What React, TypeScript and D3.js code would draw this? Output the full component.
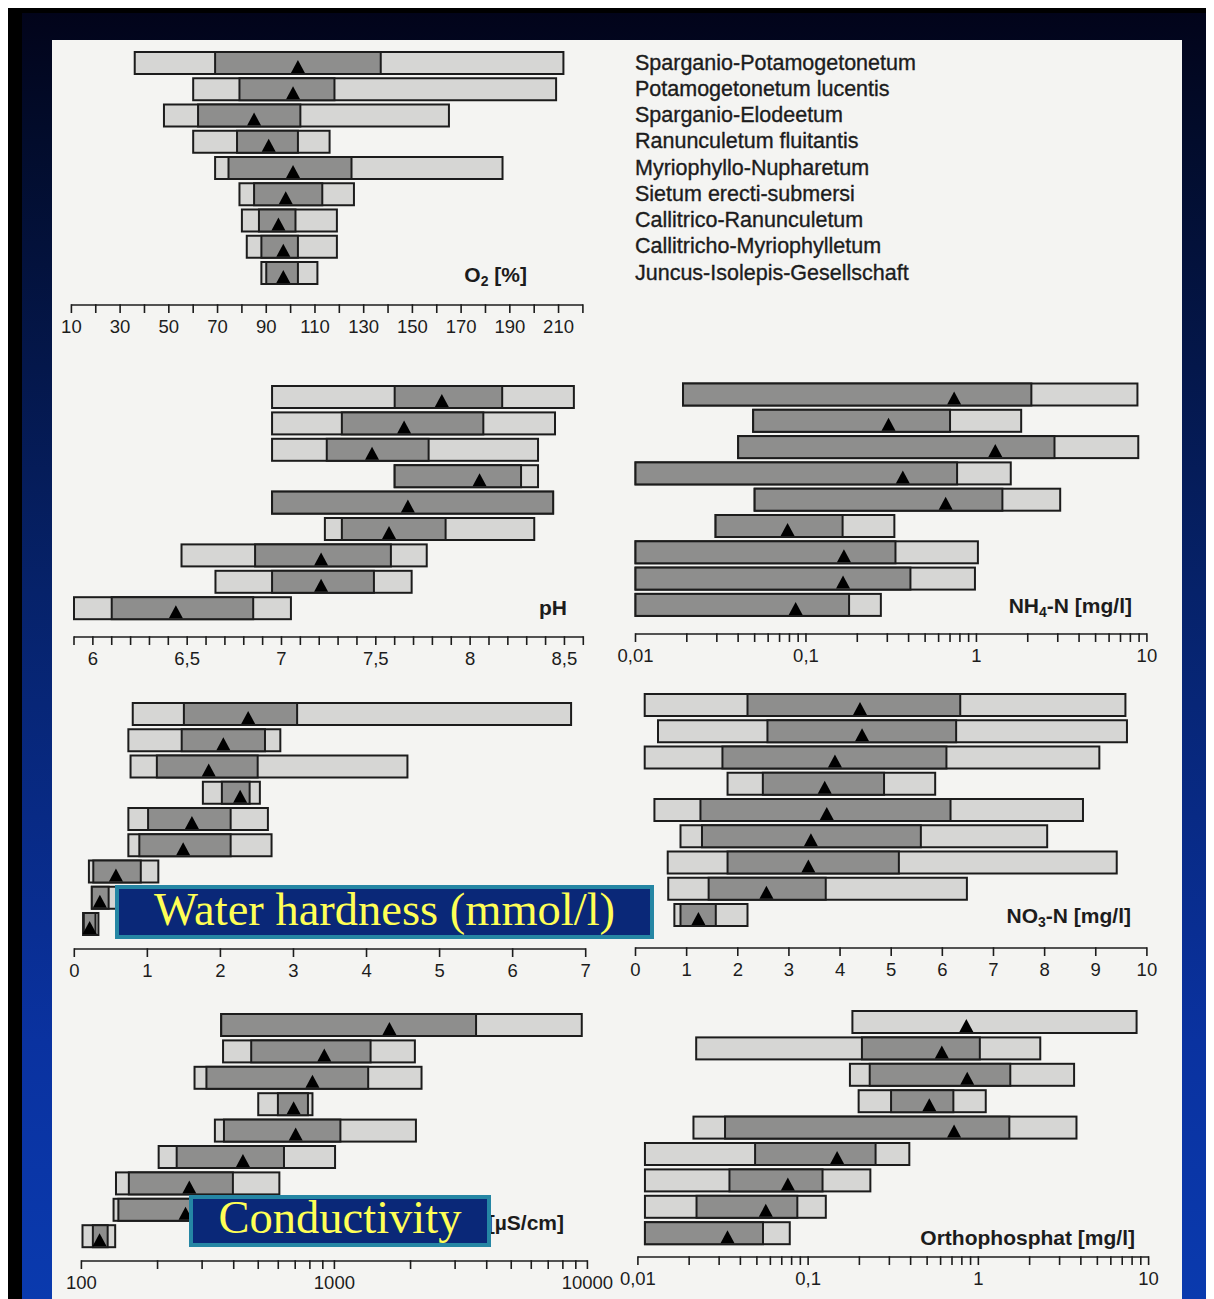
import React from 'react';
import * as d3 from 'd3';

// plant communities (same row order in every panel)
const communities = [
  'Sparganio-Potamogetonetum',
  'Potamogetonetum lucentis',
  'Sparganio-Elodeetum',
  'Ranunculetum fluitantis',
  'Myriophyllo-Nupharetum',
  'Sietum erecti-submersi',
  'Callitrico-Ranunculetum',
  'Callitricho-Myriophylletum',
  'Juncus-Isolepis-Gesellschaft',
];

// each row: [min, lower quartile, upper quartile, max, median]
const o2Rows = [
  [36, 69, 137, 212, 103],
  [60, 79, 118, 209, 101],
  [48, 62, 104, 165, 85],
  [60, 78, 103, 116, 91],
  [69, 74.5, 125, 187, 101],
  [79, 85, 113, 126, 98],
  [80, 87, 102, 119, 95],
  [82, 88, 103, 119, 97],
  [88, 90, 103, 111, 97],
];

const phRows = [
  [6.95, 7.6, 8.17, 8.55, 7.85],
  [6.95, 7.32, 8.07, 8.45, 7.65],
  [6.95, 7.24, 7.78, 8.36, 7.48],
  [7.6, 7.6, 8.27, 8.36, 8.05],
  [6.95, 6.95, 8.44, 8.44, 7.67],
  [7.23, 7.32, 7.87, 8.34, 7.57],
  [6.47, 6.86, 7.58, 7.77, 7.21],
  [6.65, 6.95, 7.49, 7.69, 7.21],
  [5.9, 6.1, 6.85, 7.05, 6.44],
];

const nh4Rows = [
  [0.019, 0.019, 2.1, 8.8, 0.74],
  [0.049, 0.049, 0.7, 1.83, 0.305],
  [0.04, 0.04, 2.87, 8.9, 1.29],
  [0.01, 0.01, 0.77, 1.59, 0.37],
  [0.05, 0.05, 1.42, 3.1, 0.66],
  [0.0295, 0.0295, 0.164, 0.33, 0.078],
  [0.01, 0.01, 0.335, 1.02, 0.167],
  [0.01, 0.01, 0.41, 0.98, 0.165],
  [0.01, 0.01, 0.179, 0.275, 0.087],
];

const hardnessRows = [
  [0.8, 1.5, 3.05, 6.8, 2.38],
  [0.74, 1.47, 2.61, 2.82, 2.04],
  [0.77, 1.13, 2.51, 4.56, 1.84],
  [1.76, 2.02, 2.4, 2.54, 2.27],
  [0.74, 1.01, 2.14, 2.65, 1.61],
  [0.74, 0.89, 2.14, 2.7, 1.49],
  [0.2, 0.26, 0.91, 1.15, 0.57],
  [0.24, 0.24, 0.47, 0.62, 0.35],
  [0.12, 0.13, 0.29, 0.33, 0.21],
];

const no3Rows = [
  [0.18, 2.19, 6.35, 9.58, 4.39],
  [0.44, 2.58, 6.27, 9.61, 4.43],
  [0.18, 1.7, 6.08, 9.07, 3.9],
  [1.8, 2.49, 4.86, 5.86, 3.7],
  [0.37, 1.27, 6.16, 8.75, 3.74],
  [0.88, 1.3, 5.58, 8.05, 3.43],
  [0.63, 1.8, 5.15, 9.41, 3.38],
  [0.64, 1.43, 3.72, 6.48, 2.56],
  [0.76, 0.88, 1.57, 2.19, 1.23],
];

const condRows = [
  [357, 357, 3630, 9500, 1650],
  [363, 469, 1390, 2080, 912],
  [280, 312, 1360, 2210, 819],
  [500, 598, 786, 819, 690],
  [337, 366, 1056, 2100, 703],
  [202, 238, 632, 1006, 435],
  [137, 154, 397, 606, 267],
  [134, 140, 370, 560, 258],
  [101, 111, 127, 136, 118],
];

const phosRows = [
  [0.182, null, null, 8.5, 0.85],
  [0.022, 0.207, 1.02, 2.31, 0.61],
  [0.176, 0.23, 1.54, 3.65, 0.86],
  [0.198, 0.307, 0.713, 1.105, 0.515],
  [0.0212, 0.0325, 1.52, 3.77, 0.72],
  [0.011, 0.0488, 0.249, 0.393, 0.148],
  [0.011, 0.0345, 0.1215, 0.232, 0.076],
  [0.011, 0.0221, 0.0864, 0.127, 0.0564],
  [0.011, 0.011, 0.0543, 0.078, 0.0336],
];

// tick labels
const o2Labels = [10, 30, 50, 70, 90, 110, 130, 150, 170, 190, 210];
const phLabels = [6, 6.5, 7, 7.5, 8, 8.5];
const hardnessLabels = [0, 1, 2, 3, 4, 5, 6, 7];
const no3Labels = [0, 1, 2, 3, 4, 5, 6, 7, 8, 9, 10];
const mgLogLabels = [0.01, 0.1, 1, 10];
const condLabels = [100, 1000, 10000];

const SANS = '"Liberation Sans", Arial, Helvetica, sans-serif';
const SERIF = '"Liberation Serif", "Times New Roman", serif';
const INK = '#1c1c1c';
const comma = (v: number) => String(v).replace('.', ',');

const BAR_H = 22;

function Bars({ rows, x, y0, step }: any) {
  return (
    <g>
      {rows.map((r: (number | null)[], i: number) => {
        const [mn, q1, q3, mx, md] = r as number[];
        const top = y0 + i * step - BAR_H / 2;
        const m = x(md);
        return (
          <g key={i}>
            <rect x={x(mn)} y={top} width={x(mx) - x(mn)} height={BAR_H}
              fill="#d6d6d4" stroke={INK} strokeWidth={2} />
            {q1 != null && (
              <rect x={x(q1)} y={top} width={x(q3) - x(q1)} height={BAR_H}
                fill="#8e8e8d" stroke={INK} strokeWidth={2} />
            )}
            <path d={`M${m - 7},${top + BAR_H - 1}L${m + 7},${top + BAR_H - 1}L${m},${top + BAR_H - 14}Z`}
              fill="#000" />
          </g>
        );
      })}
    </g>
  );
}

function Axis({ x, y, ticks, labels, fmt }: any) {
  const [a, b] = x.range();
  return (
    <g>
      <line x1={a} x2={b} y1={y} y2={y} stroke={INK} strokeWidth={1.6} />
      {ticks.map((t: number, i: number) => (
        <line key={i} x1={x(t)} x2={x(t)} y1={y - 0.8} y2={y + 8} stroke={INK} strokeWidth={1.6} />
      ))}
      {labels.map((t: number, i: number) => (
        <text key={i} x={x(t)} y={y + 28} textAnchor="middle" fontFamily={SANS}
          fontSize={18.5} fill={INK}>{fmt(t)}</text>
      ))}
    </g>
  );
}

function Title({ x, y, children }: any) {
  return (
    <text x={x} y={y} textAnchor="end" fontFamily={SANS} fontSize={21}
      fontWeight="bold" fill={INK}>{children}</text>
  );
}

function Sub({ children }: any) {
  return <tspan fontSize={14} dy={4}>{children}</tspan>;
}

function Banner({ x, y, w, h, label }: any) {
  return (
    <g>
      <rect x={x} y={y} width={w} height={h} fill="#0a2878" stroke="#2586a4" strokeWidth={4} />
      <text x={x + w / 2} y={y + h - 12} textAnchor="middle" fontFamily={SERIF}
        fontSize={46.5} fill="#ffff55">{label}</text>
    </g>
  );
}

export default function App() {
  const o2X = d3.scaleLinear().domain([10, 220]).range([71.4, 582.9]);
  const phX = d3.scaleLinear().domain([5.9, 8.6]).range([74, 583.3]);
  const nh4X = d3.scaleLog().domain([0.01, 10]).range([635.5, 1146.9]);
  const hardX = d3.scaleLinear().domain([0, 7]).range([74.3, 585.7]);
  const no3X = d3.scaleLinear().domain([0, 10]).range([635.5, 1146.9]);
  const condX = d3.scaleLog().domain([100, 10000]).range([81.4, 587.4]);
  const phosX = d3.scaleLog().domain([0.01, 10]).range([637.9, 1148.6]);

  const o2Ticks = d3.range(10, 221, 10);
  const phTicks = d3.range(59, 87).map((v) => v / 10);

  return (
    <svg width={1206} height={1291} style={{ display: 'block' }}>
      <defs>
        <linearGradient id="frame" x1="0" y1="0" x2="0" y2="1">
          <stop offset="0" stopColor="#02041a" />
          <stop offset="0.1" stopColor="#020c2c" />
          <stop offset="0.45" stopColor="#06226a" />
          <stop offset="0.8" stopColor="#0a32a0" />
          <stop offset="1" stopColor="#0a3aae" />
        </linearGradient>
      </defs>
      <g transform="translate(-8,-8)">
        {/* slide frame */}
        <rect x={8} y={8} width={1206} height={1291} fill="#000" />
        <rect x={22} y={13} width={1192} height={1286} fill="url(#frame)" />
        <rect x={52} y={40} width={1130} height={1259} fill="#f4f4f2" />

        {/* O2 */}
        <Bars rows={o2Rows} x={o2X} y0={63} step={26.25} />
        <Axis x={o2X} y={305} ticks={o2Ticks} labels={o2Labels} fmt={String} />
        <Title x={527} y={282}>O<Sub>2</Sub><tspan dy={-4}> [%]</tspan></Title>

        {/* legend */}
        {communities.map((c, i) => (
          <text key={c} x={635} y={69.5 + i * 26.25} fontFamily={SANS} fontSize={21.5}
            fill={INK} stroke={INK} strokeWidth={0.35}>{c}</text>
        ))}

        {/* pH */}
        <Bars rows={phRows} x={phX} y0={397} step={26.4} />
        <Axis x={phX} y={637} ticks={phTicks} labels={phLabels} fmt={comma} />
        <Title x={567} y={615}>pH</Title>

        {/* NH4-N */}
        <Bars rows={nh4Rows} x={nh4X} y0={394.5} step={26.3} />
        <Axis x={nh4X} y={634} ticks={nh4X.ticks()} labels={mgLogLabels} fmt={comma} />
        <Title x={1132} y={613}>NH<Sub>4</Sub><tspan dy={-4}>-N [mg/l]</tspan></Title>

        {/* water hardness */}
        <Bars rows={hardnessRows} x={hardX} y0={714} step={26.25} />
        <Axis x={hardX} y={949} ticks={hardnessLabels} labels={hardnessLabels} fmt={String} />

        {/* NO3-N */}
        <Bars rows={no3Rows} x={no3X} y0={705} step={26.25} />
        <Axis x={no3X} y={948} ticks={no3Labels} labels={no3Labels} fmt={String} />
        <Title x={1131} y={923}>NO<Sub>3</Sub><tspan dy={-4}>-N [mg/l]</tspan></Title>

        {/* conductivity */}
        <Bars rows={condRows} x={condX} y0={1025} step={26.4} />
        <Axis x={condX} y={1261} ticks={condX.ticks()} labels={condLabels} fmt={String} />
        <Title x={564} y={1230}>[µS/cm]</Title>

        {/* orthophosphate */}
        <Bars rows={phosRows} x={phosX} y0={1022} step={26.4} />
        <Axis x={phosX} y={1257} ticks={phosX.ticks()} labels={mgLogLabels} fmt={comma} />
        <Title x={1135} y={1245}>Orthophosphat [mg/l]</Title>

        {/* slide overlays */}
        <Banner x={117} y={887} w={535} h={50} label="Water hardness (mmol/l)" />
        <Banner x={191} y={1197} w={298} h={48} label="Conductivity" />
      </g>
    </svg>
  );
}
